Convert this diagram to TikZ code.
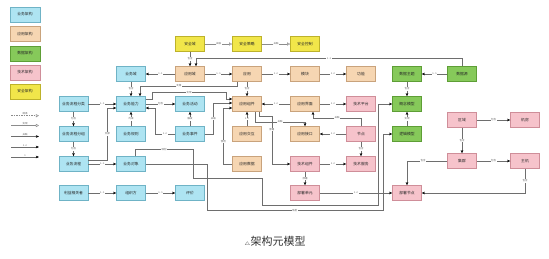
\documentclass[tikz,border=0pt]{standalone}
\usepackage{fontspec}
\newfontfamily\cjk{Noto Sans CJK SC}
\usetikzlibrary{arrows.meta,calc}
\definecolor{bizF}{HTML}{AEE4F2}\definecolor{bizD}{HTML}{6FB3C6}
\definecolor{appF}{HTML}{F6D6B2}\definecolor{appD}{HTML}{C9A37C}
\definecolor{datF}{HTML}{86C95A}\definecolor{datD}{HTML}{5E9E36}
\definecolor{tecF}{HTML}{F6C3CB}\definecolor{tecD}{HTML}{CF8E99}
\definecolor{secF}{HTML}{F1E64A}\definecolor{secD}{HTML}{BDB22A}
\definecolor{lnC}{HTML}{6E6E6E}
\begin{document}
\begin{tikzpicture}[x=1pt,y=-1pt,
  box/.style={rectangle, minimum width=29pt, minimum height=15pt, inner sep=0pt, line width=0.5pt, font=\cjk\fontsize{3.8}{4}\selectfont, text=black!85},
  biz/.style={box, fill=bizF, draw=bizD},
  app/.style={box, fill=appF, draw=appD},
  dat/.style={box, fill=datF, draw=datD},
  tec/.style={box, fill=tecF, draw=tecD},
  sec/.style={box, fill=secF, draw=secD},
  leg/.style={minimum width=30pt},
  conn/.style={draw=lnC, line width=0.45pt, -{Stealth[length=3.2pt,width=2.6pt,color=black]}},
  openconn/.style={draw=black!45, line width=0.45pt, -{Triangle[open,length=3.2pt,width=3.2pt,fill=white]}},
  dashconn/.style={openconn, dash pattern=on 1.5pt off 1pt},
  lab/.style={fill=white, inner sep=0.5pt, font=\cjk\fontsize{2.5}{2.6}\selectfont, text=black!60},
  captext/.style={font=\cjk\fontsize{11}{12}\selectfont, text=black!80}]
\useasboundingbox (0,0) rectangle (549,258);
\fill[white] (0,0) rectangle (549,258);

% legend
\node[biz,leg] (lg1) at (25,14.5) {业务架构};
\node[app,leg] (lg2) at (25,34) {应用架构};
\node[dat,leg] (lg3) at (25,53.5) {数据架构};
\node[tec,leg] (lg4) at (25,72.5) {技术架构};
\node[sec,leg] (lg5) at (25,91.5) {安全架构};
\coordinate (l1a) at (11,115.7); \coordinate (l1b) at (39,115.7);
\coordinate (l2a) at (11,125.5); \coordinate (l2b) at (39,125.5);
\coordinate (l3a) at (11,136.5); \coordinate (l3b) at (39,136.5);
\coordinate (l4a) at (11,147); \coordinate (l4b) at (39,147);
\coordinate (l5a) at (11,157); \coordinate (l5b) at (39,157);
\draw[dashconn] (l1a) -- node[lab,above=0pt,fill=none]{继承} (l1b);
\draw[openconn] (l2a) -- node[lab,above=0pt,fill=none]{实现} (l2b);
\draw[conn] (l3a) -- node[lab,above=0pt,fill=none]{关联} (l3b);
\draw[conn] (l4a) -- node[lab,above=0pt,fill=none]{1..n} (l4b);
\draw[conn] (l5a) -- node[lab,above=0pt,fill=none]{1} (l5b);

% security
\node[sec] (y1) at (190,44) {安全域};
\node[sec] (y2) at (247,44) {安全策略};
\node[sec] (y3) at (305,44) {安全控制};

% application
\node[app] (a1) at (190,74) {应用域};
\node[app] (a2) at (247,74) {应用};
\node[app] (a3) at (305,74) {模块};
\node[app] (a4) at (361,74) {功能};
\node[app] (a5) at (247,104) {应用组件};
\node[app] (a6) at (305,104) {应用界面};
\node[app] (a7) at (247,134) {应用交互};
\node[app] (a8) at (305,134) {应用接口};
\node[app] (a9) at (247,164) {应用数据};

% business
\node[biz] (b1) at (131,74) {业务域};
\node[biz] (b2) at (73.5,104) {业务流程分类};
\node[biz] (b3) at (131,104) {业务能力};
\node[biz] (b4) at (190,104) {业务活动};
\node[biz] (b5) at (73.5,134) {业务流程分组};
\node[biz] (b6) at (131,134) {业务规则};
\node[biz] (b7) at (190,134) {业务事件};
\node[biz] (b8) at (73.5,164) {业务流程};
\node[biz] (b9) at (131,164) {业务对象};
\node[biz] (b10) at (73.5,193) {利益相关者};
\node[biz] (b11) at (131,193) {组织方};
\node[biz] (b12) at (190,193) {评价};

% data
\node[dat] (g1) at (407,74) {数据主题};
\node[dat] (g2) at (462,74) {数据源};
\node[dat] (g3) at (407,104) {概念模型};
\node[dat] (g4) at (407,134) {逻辑模型};

% technology
\node[tec] (p1) at (361,104) {技术平台};
\node[tec] (p2) at (361,134) {节点};
\node[tec] (p3) at (305,164) {技术组件};
\node[tec] (p4) at (361,164) {技术服务};
\node[tec] (p5) at (305,193) {部署单元};
\node[tec] (p6) at (407,193) {部署节点};
\node[tec] (p7) at (462,120) {区域};
\node[tec] (p8) at (525,120) {机房};
\node[tec] (p9) at (462,161) {集群};
\node[tec] (p10) at (525,161) {主机};

% connectors
\draw[openconn] (y1) -- node[lab]{关联} (y2);
\draw[openconn] (y2) -- node[lab]{关联} (y3);
\draw[conn] (y1) -- node[lab]{包含} (a1);
\draw[conn] (g2.north) |- node[lab,pos=0.75]{1..1} ($(a1.north)+(6,-8)$) -- ($(a1.north)+(6,0)$);
\draw[conn] (a1) -- node[lab]{1..1} (b1);
\draw[conn] (a1) -- node[lab]{1..n} (a2);
\draw[conn] (a2) -- node[lab]{1..n} (a3);
\draw[conn] (a3) -- node[lab]{1..n} (a4);
\draw[conn] (a2) -- node[lab]{包含} (a5);
\draw[conn] (b1) -- node[lab]{包含} (b3);
\draw[conn] ($(a2.south)+(-10,0)$) -- ++(0,4) -| node[lab,pos=0.3]{支撑} ($(b3.north)+(9,0)$);
\draw[conn] ($(b3.east)+(0,-5)$) -- ++(6,0) |- node[lab,pos=0.75]{实现} ($(a5.west)+(-6,-11.5)$) |- ($(a5.west)+(0,-5)$);
\draw[conn] (b2) -- node[lab]{1..n} (b3);
\draw[conn] (b2) -- node[lab]{包含} (b5);
\draw[conn] (b5) -- node[lab]{包含} (b8);
\draw[conn] ($(b8.east)+(0,-4)$) -| node[lab,pos=0.75]{支撑} ($(b3.west)+(-9,4)$) -- ($(b3.west)+(0,4)$);
\draw[conn] (b8) -- node[lab]{1..n} (b9);
\draw[conn] (b6) -- node[lab]{约束} (b3);
\draw[conn] (b3) -- node[lab]{包含} (b4);
\draw[conn] (b7) -- node[lab]{触发} (b4);
\draw[conn] (b7.west) -| node[lab,pos=0.25]{1..n} ($(b3.east)+(9,4)$) -- ($(b3.east)+(0,4)$);
\draw[conn] (b7.east) -| node[lab,pos=0.75]{关联} ($(a5.west)+(-19,-1)$) -- ($(a5.west)+(0,-1)$);
\draw[conn] (a9.west) -| node[lab,pos=0.7]{使用} ($(a5.west)+(-9,4)$) -- ($(a5.west)+(0,4)$);
\draw[conn] (a6) -- node[lab]{1..n} (a5);
\draw[conn] (a6) -- node[lab]{1..n} (p1);
\draw[conn] (a7) -- node[lab]{1..n} (a5);
\draw[conn] ($(a5.south)+(8,0)$) -- ++(0,10) -| node[lab,pos=0.25]{关联} (a8.north);
\draw[conn] ($(a5.south)+(12,0)$) -- ++(0,4) -| node[lab,pos=0.7]{部署} ($(p3.west)+(-18.5,-14)$) |- (p3.west);
\draw[conn] (p2.north) |- node[lab,pos=0.75]{关联} ($(a6.south)+(8,6)$) -- ($(a6.south)+(8,0)$);
\draw[conn] (p2) -- node[lab]{1..n} (a8);
\draw[conn] (p2) -- node[lab]{包含} (p4);
\draw[conn] (p3) -- node[lab]{1..n} (p4);
\draw[conn] (p3) -- node[lab]{部署} (p5);
\draw[conn] (p5) -- node[lab]{1..n} (p6);
\draw[conn] (g2) -- node[lab]{1..n} (g1);
\draw[conn] (g1) -- node[lab]{包含} (g3);
\draw[conn] (g4) -- node[lab]{实现} (g3);
\draw[conn] (p7) -- node[lab]{包含} (p8);
\draw[conn] (p7) -- node[lab]{包含} (p9);
\draw[conn] (p9) -- node[lab]{包含} (p10);
\draw[conn] (p9.west) -| node[lab,pos=0.3]{包含} (p6.north);
\draw[conn] (p10.south) |- node[lab,pos=0.25]{包含} (p6.east);
\draw[conn] (b10) -- node[lab]{1..n} (b11);
\draw[conn] (b11) -- node[lab]{1..n} (b12);
\draw[conn] ($(b9.north)+(4,0)$) -- ++(0,-7) -| node[lab,pos=0.25]{映射} ($(a9.south)+(-54,6.5)$) -| ($(a9.south)+(15,33.5)$) -| ($(g3.west)+(-14.5,16)$) |- (g3.west);
\draw[conn] (b9.east) -| ($(a9.south)+(-40,38.5)$) -| node[lab,pos=0.25]{映射} ($(g4.west)+(-9.5,16)$) |- (g4.west);

% caption
\node[captext] (caption) at (275,241.5) {{\fontsize{5}{5}\selectfont$\triangle$}架构元模型};
\end{tikzpicture}
\end{document}
